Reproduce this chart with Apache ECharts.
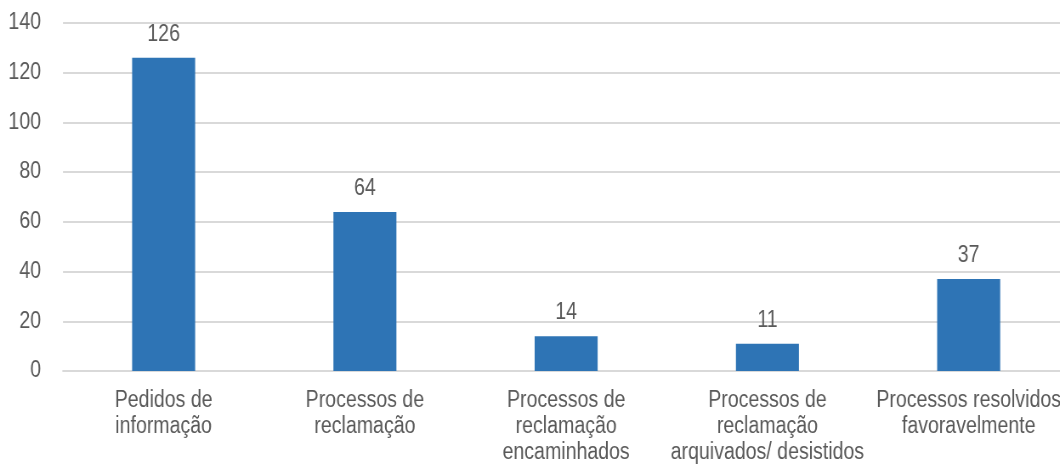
<!DOCTYPE html>
<html>
<head>
<meta charset="utf-8">
<script src="https://cdn.jsdelivr.net/npm/echarts@6/dist/echarts.min.js"></script>
<style>
  html, body { margin: 0; padding: 0; background: #ffffff; overflow: hidden; width: 1060px; height: 466px; }
  /* The chart is laid out wider and squeezed horizontally so the sans-serif
     text takes on a condensed (narrow) look. */
  #chart { width: 1258px; height: 466px; transform: scaleX(0.85); transform-origin: 0 0; }
</style>
</head>
<body>
<div id="chart"></div>
<script>
// Categories and counts shown in the bar chart
const categories = [
  'Pedidos de\ninformação',
  'Processos de\nreclamação',
  'Processos de\nreclamação\nencaminhados',
  'Processos de\nreclamação\narquivados/ desistidos',
  'Processos resolvidos\nfavoravelmente'
];
const counts = [126, 64, 14, 11, 37];
const yTicks = { min: 0, max: 140, step: 20 };

const SQUEEZE = 0.85;
const px = v => v / SQUEEZE; // horizontal sizes in the unsqueezed layout
const FONT = '"Liberation Sans", Arial, Helvetica, sans-serif';
const TEXT = '#595959';

const chart = echarts.init(document.getElementById('chart'), null, { renderer: 'canvas' });
chart.setOption({
  animation: false,
  grid: { left: px(63), right: 0, top: 23, bottom: 95, containLabel: false },
  xAxis: {
    type: 'category',
    data: categories,
    axisLine: { show: true, lineStyle: { color: '#D9D9D9', width: 2 } },
    axisTick: { show: false },
    axisLabel: {
      color: TEXT, fontFamily: FONT, fontSize: 23, lineHeight: 26,
      margin: 17, interval: 0
    }
  },
  yAxis: {
    type: 'value',
    min: yTicks.min, max: yTicks.max, interval: yTicks.step,
    axisLine: { show: false },
    axisTick: { show: false },
    axisLabel: { color: TEXT, fontFamily: FONT, fontSize: 23, margin: px(22) },
    splitLine: { lineStyle: { color: '#D9D9D9', width: 2 } }
  },
  series: [{
    type: 'bar',
    data: counts,
    barWidth: px(63),
    itemStyle: { color: '#2E74B5' },
    label: {
      show: true, position: 'top', distance: 12,
      color: TEXT, fontFamily: FONT, fontSize: 23
    }
  }]
});
</script>
</body>
</html>
